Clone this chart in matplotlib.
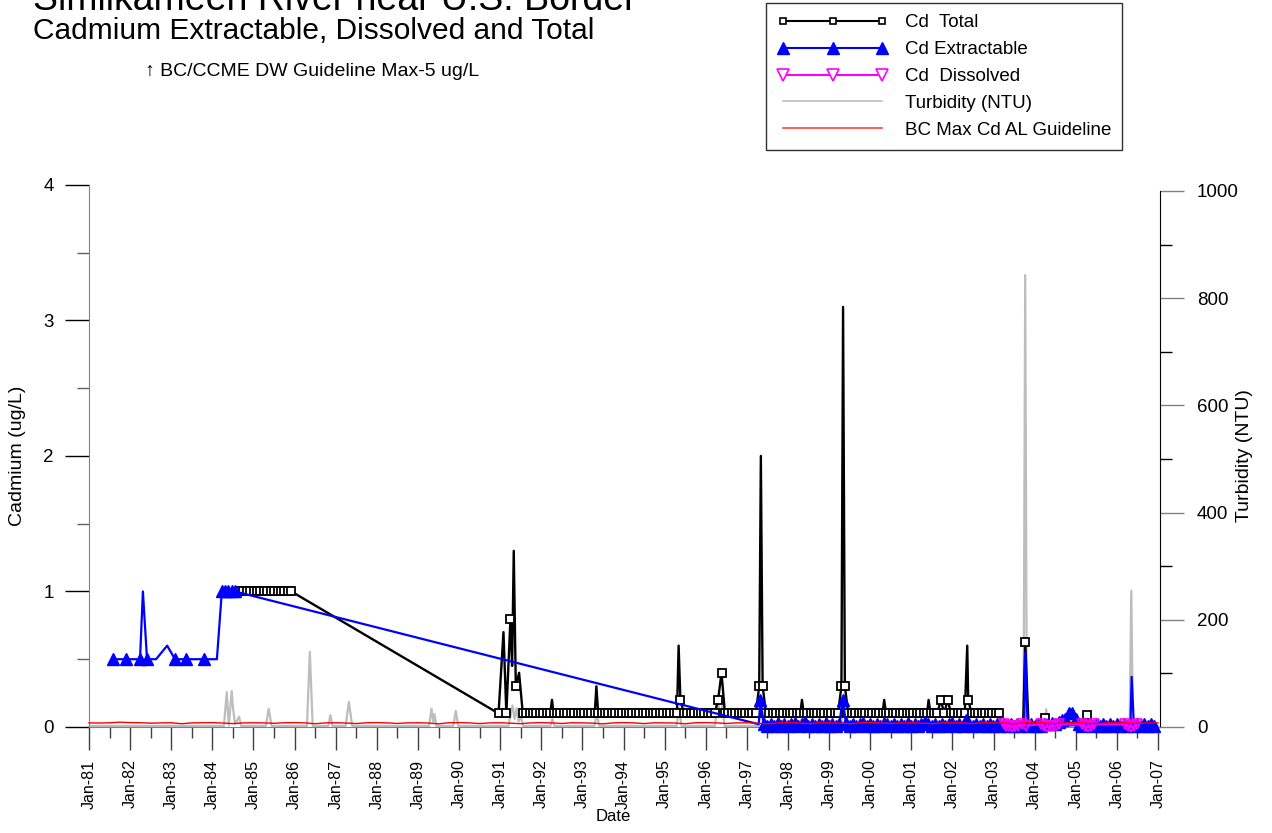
import numpy as np
import matplotlib.pyplot as plt
from matplotlib.lines import Line2D

plt.rcParams['font.family'] = ['Liberation Sans', 'DejaVu Sans']

# ---------------- data (decimal years) ----------------
# Cd Total (ug/L): points with a marker
total_v_early = [1.0, 1.0, 1.0, 1.0, 1.0, 1.0, 1.0, 1.0,
                 1.0, 1.0, 1.0, 1.0, 1.0, 1.0, 1.0, 1.0]
total_t_early = 1984.67 + np.arange(len(total_v_early)) / 12
total_t_91 = [1990.96, 1991.15, 1991.25, 1991.38]
total_v_91 = [0.1, 0.1, 0.8, 0.3]
total_v_base = [
    0.1, 0.1, 0.1, 0.1, 0.1, 0.1, 0.1, 0.1, 0.1, 0.1, 0.1, 0.1,
    0.1, 0.1, 0.1, 0.1, 0.1, 0.1, 0.1, 0.1, 0.1, 0.1, 0.1, 0.1,
    0.1, 0.1, 0.1, 0.1, 0.1, 0.1, 0.1, 0.1, 0.1, 0.1, 0.1, 0.1,
    0.1, 0.1, 0.1, 0.1, 0.1, 0.1, 0.1, 0.1, 0.1, 0.1, 0.2, 0.1,
    0.1, 0.1, 0.1, 0.1, 0.1, 0.1, 0.1, 0.1, 0.1, 0.2, 0.4, 0.1,
    0.1, 0.1, 0.1, 0.1, 0.1, 0.1, 0.1, 0.1, 0.1, 0.3, 0.3, 0.1,
    0.1, 0.1, 0.1, 0.1, 0.1, 0.1, 0.1, 0.1, 0.1, 0.1, 0.1, 0.1,
    0.1, 0.1, 0.1, 0.1, 0.1, 0.1, 0.1, 0.1, 0.1, 0.3, 0.3, 0.1,
    0.1, 0.1, 0.1, 0.1, 0.1, 0.1, 0.1, 0.1, 0.1, 0.1, 0.1, 0.1,
    0.1, 0.1, 0.1, 0.1, 0.1, 0.1, 0.1, 0.1, 0.1, 0.1, 0.1, 0.1,
    0.1, 0.1, 0.2, 0.1, 0.2, 0.1, 0.1, 0.1, 0.1, 0.1, 0.2, 0.1,
    0.1, 0.1, 0.1, 0.1, 0.1, 0.1, 0.1, 0.1,
]
total_t_base = 1991.55 + np.arange(len(total_v_base)) / 12
total_t_late = [2003.77, 2004.26, 2005.28]
total_v_late = [0.63, 0.065, 0.09]
# Cd Total: points without a marker
total_t_free = [1991.08, 1991.29, 1991.33, 1991.46, 1992.26, 1993.34, 1995.34,
                1997.34, 1998.34, 1999.34, 2000.34, 2001.42, 2002.36,
                2003.17, 2003.35, 2003.55, 2003.72, 2003.85, 2004.05, 2004.2,
                2004.35, 2004.6, 2004.85, 2005.05, 2005.2, 2005.4, 2005.65,
                2005.9, 2006.2, 2006.45, 2006.7, 2006.95]
total_v_free = [0.7, 0.45, 1.3, 0.4, 0.2, 0.3, 0.6,
                2.0, 0.2, 3.1, 0.2, 0.2, 0.6,
                0.03, 0.02, 0.02, 0.02, 0.02, 0.02, 0.02,
                0.03, 0.02, 0.03, 0.03, 0.03, 0.03, 0.02,
                0.02, 0.03, 0.02, 0.02, 0.02]

# Cd Extractable (ug/L)
ext_t_early = [1981.58, 1981.9, 1982.24, 1982.41, 1983.09, 1983.36, 1983.8,
               1984.23, 1984.31, 1984.39, 1984.47, 1984.55]
ext_v_early = [0.5, 0.5, 0.5, 0.5, 0.5, 0.5, 0.5,
               1.0, 1.0, 1.0, 1.0, 1.0]
ext_v_dense = [
    0.20, 0.02, 0.01, 0.02, 0.01, 0.03, 0.01, 0.02, 0.01, 0.02, 0.03, 0.01,
    0.02, 0.04, 0.01, 0.02, 0.01, 0.02, 0.01, 0.03, 0.01, 0.02, 0.01, 0.02,
    0.20, 0.03, 0.01, 0.02, 0.01, 0.02, 0.03, 0.01, 0.02, 0.01, 0.02, 0.01,
    0.03, 0.02, 0.01, 0.02, 0.01, 0.02, 0.01, 0.03, 0.01, 0.02, 0.01, 0.02,
    0.04, 0.02, 0.01, 0.02, 0.01, 0.02, 0.01, 0.02, 0.03, 0.01, 0.02, 0.01,
    0.05, 0.02, 0.01, 0.02, 0.01, 0.02, 0.01, 0.02, 0.01, 0.02, 0.01, 0.02,
    0.01, 0.02, 0.01, 0.02, 0.01, 0.02, 0.01, 0.02, 0.01, 0.02, 0.01, 0.02,
    0.02, 0.03, 0.02, 0.04, 0.05, 0.06, 0.10, 0.10, 0.06, 0.02, 0.01, 0.02,
    0.02, 0.01, 0.02, 0.01, 0.02, 0.01, 0.02, 0.01, 0.02, 0.01, 0.02, 0.01,
    0.02, 0.01, 0.02, 0.01, 0.02, 0.01, 0.02, 0.01,
]
ext_t_dense = 1997.33 + np.arange(len(ext_v_dense)) / 12
ext_t_free = [1982.31, 1982.63, 1982.9, 1984.11, 1997.29, 2003.77, 2006.36]
ext_v_free = [1.0, 0.5, 0.6, 0.5, 0.02, 0.55, 0.37]

# Cd Dissolved (ug/L)
diss_t = [2003.25, 2003.3, 2003.38, 2003.45, 2003.52, 2003.6, 2003.7, 2003.8,
          2004.15, 2004.22, 2004.3, 2004.38, 2004.45, 2004.52, 2004.6,
          2005.15, 2005.22, 2005.3, 2005.38, 2005.45,
          2006.2, 2006.28, 2006.35, 2006.42, 2006.5]
diss_v = [0.02, 0.005, 0.01, 0.0, 0.01, 0.005, 0.02, 0.01,
          0.02, 0.005, 0.0, 0.01, 0.005, 0.01, 0.02,
          0.02, 0.005, 0.0, 0.01, 0.02,
          0.02, 0.01, 0.0, 0.005, 0.02]

# Turbidity (NTU)
turb_t = [1981.0, 1984.28, 1984.35, 1984.4, 1984.47, 1984.5, 1984.55, 1984.65, 1984.7,
          1985.3, 1985.37, 1985.44, 1986.3, 1986.37, 1986.44, 1986.82, 1986.87, 1986.92,
          1987.24, 1987.32, 1987.4, 1989.27, 1989.33, 1989.37, 1989.4, 1989.45,
          1989.86, 1989.92, 1989.98, 1991.2, 1991.3, 1991.35, 1991.4, 1991.45, 1991.5, 1991.56,
          1992.22, 1992.27, 1992.32, 1993.29, 1993.35, 1993.41, 1995.29, 1995.35, 1995.41,
          1996.22, 1996.3, 1996.36, 1996.4, 1996.46, 1997.28, 1997.34, 1997.4,
          1998.28, 1998.33, 1998.38, 1999.3, 1999.35, 1999.4, 2002.33, 2002.38, 2002.43,
          2003.73, 2003.77, 2003.81, 2004.24, 2004.28, 2004.32,
          2006.31, 2006.35, 2006.39, 2007.0]
turb_v = [2, 2, 65, 3, 67, 37, 5, 19, 2,
          2, 34, 2, 2, 140, 2, 2, 22, 2,
          2, 47, 2, 2, 34, 10, 24, 2,
          2, 30, 2, 2, 40, 15, 35, 10, 20, 2,
          2, 15, 2, 2, 25, 2, 2, 35, 2,
          2, 45, 20, 40, 2, 2, 40, 2,
          2, 15, 2, 2, 50, 2, 2, 19, 2,
          3, 843, 3, 2, 33, 2,
          2, 254, 2, 2]

# BC max Cd aquatic life guideline (ug/L), quarterly
guide_v = [
    0.030, 0.029, 0.031, 0.035, 0.032, 0.031, 0.028, 0.030,
    0.031, 0.024, 0.030, 0.031, 0.032, 0.029, 0.025, 0.030,
    0.031, 0.030, 0.027, 0.031, 0.032, 0.030, 0.024, 0.030,
    0.031, 0.029, 0.025, 0.031, 0.032, 0.030, 0.026, 0.030,
    0.031, 0.029, 0.023, 0.031, 0.032, 0.030, 0.025, 0.030,
    0.031, 0.028, 0.024, 0.030, 0.032, 0.030, 0.026, 0.031,
    0.030, 0.028, 0.023, 0.030, 0.032, 0.030, 0.025, 0.031,
    0.030, 0.029, 0.024, 0.031, 0.032, 0.030, 0.026, 0.030,
    0.031, 0.028, 0.023, 0.030, 0.032, 0.030, 0.025, 0.031,
    0.030, 0.029, 0.024, 0.031, 0.032, 0.030, 0.026, 0.030,
    0.031, 0.028, 0.024, 0.030, 0.031, 0.030, 0.025, 0.031,
    0.030, 0.029, 0.023, 0.031, 0.032, 0.030, 0.025, 0.030,
    0.031, 0.029, 0.024, 0.030, 0.031, 0.030, 0.026, 0.030,
    0.030,
]
guide_t = 1981.0 + np.arange(len(guide_v)) * 0.25

years = list(range(1981, 2008))
tick_labels = ['Jan-%02d' % (y % 100) for y in years]


def merge(t_mark, v_mark, t_free, v_free):
    t = np.concatenate([t_mark, t_free])
    v = np.concatenate([v_mark, v_free])
    o = np.argsort(t, kind='stable')
    return t[o], v[o]


tot_mt = np.concatenate([total_t_early, total_t_91, total_t_base, total_t_late])
tot_mv = np.concatenate([total_v_early, total_v_91, total_v_base, total_v_late])
tot_t, tot_v = merge(tot_mt, tot_mv, total_t_free, total_v_free)

ext_mt = np.concatenate([ext_t_early, ext_t_dense])
ext_mv = np.concatenate([ext_v_early, ext_v_dense])
ext_t, ext_v = merge(ext_mt, ext_mv, ext_t_free, ext_v_free)

# ---------------- figure ----------------
fig = plt.figure(figsize=(12.72, 8.33), dpi=100)
ax = fig.add_axes([0.0700, 0.1273, 0.8420, 0.6507])
ax2 = ax.twinx()
ax.set_zorder(ax2.get_zorder() + 1)
ax.patch.set_visible(False)

ax2.plot(turb_t, turb_v, color='#bdbdbd', lw=1.6)

ax.plot(tot_t, tot_v, color='black', lw=1.7, clip_on=False, zorder=3)
ax.plot(tot_mt, tot_mv, ls='none', marker='s', ms=5.3, mfc='white',
        mec='black', mew=1.3, clip_on=False, zorder=3)
ax.plot(ext_t, ext_v, color='blue', lw=1.6, clip_on=False, zorder=4)
ax.plot(ext_mt, ext_mv, ls='none', marker='^', ms=8.5, color='blue',
        clip_on=False, zorder=4)
ax.plot(diss_t, diss_v, color='magenta', lw=1.5, marker='v', ms=7.5,
        mfc='none', mec='magenta', mew=1.2, clip_on=False, zorder=5)
ax.plot(guide_t, guide_v, color='red', lw=1, clip_on=False, zorder=6)

ax.set_xlim(1981, 2007.05)
ax.set_ylim(0, 4)
ax2.set_ylim(0, 1000 * 542 / 536)

ax.set_xticks(years)
ax.set_xticklabels(tick_labels, rotation=90)
ax.set_xticks([y + 0.5 for y in years[:-1]], minor=True)
ax.set_yticks([0, 1, 2, 3, 4])
ax.set_yticks([0.5, 1.5, 2.5, 3.5], minor=True)
ax2.set_yticks(range(0, 1001, 200))
ax2.set_yticks(range(100, 1000, 200), minor=True)

for s in ['top', 'right']:
    ax.spines[s].set_visible(False)
for s in ['top', 'left', 'bottom']:
    ax2.spines[s].set_visible(False)
ax2.spines['right'].set_bounds(0, 1000)
ax.spines['left'].set_color('#808080')
ax.spines['bottom'].set_color('#808080')

ax.tick_params(axis='x', which='major', length=16.5, width=1, color='#404040',
               labelsize=11.5, pad=7)
ax.tick_params(axis='x', which='minor', length=8, width=1, color='#404040')
ax.tick_params(axis='y', which='major', length=17, width=1, color='black',
               labelsize=13.5, pad=8.5)
ax.tick_params(axis='y', which='minor', length=8.5, width=1, color='#606060')
ax2.tick_params(axis='y', which='major', length=17, width=1, color='#808080',
                labelsize=13.5, pad=9.5)
ax2.tick_params(axis='y', which='minor', length=8.5, width=1, color='black')

ax.set_ylabel('Cadmium (ug/L)', fontsize=14)
ax.yaxis.set_label_coords(-0.0588, 0.5)
ax2.set_ylabel('Turbidity (NTU)', fontsize=14)
ax2.yaxis.set_label_coords(1.0709, 0.5)
ax.set_xlabel('Date', fontsize=12)
ax.xaxis.set_label_coords(0.489, -0.152)

fig.text(33 / 1272, 1 - 10 / 833, 'Similkameen River near U.S. Border',
         fontsize=27, va='baseline')
fig.text(33 / 1272, 1 - 39 / 833, 'Cadmium Extractable, Dissolved and Total',
         fontsize=21.5, va='baseline')
fig.text(145 / 1272, 1 - 71 / 833, '\u2191 BC/CCME DW Guideline Max-5 ug/L',
         fontsize=14, va='center')

handles = [
    Line2D([], [], color='black', lw=1.5, marker='s', ms=4.5, mfc='white',
           mec='black', mew=1.2),
    Line2D([], [], color='blue', lw=1.5, marker='^', ms=9),
    Line2D([], [], color='magenta', lw=1.5, marker='v', ms=8, mfc='white',
           mec='magenta', mew=1.2),
    Line2D([], [], color='#bdbdbd', lw=1.2),
    Line2D([], [], color='#ff4040', lw=1.2),
]
labels = ['Cd  Total', 'Cd Extractable', 'Cd  Dissolved', 'Turbidity (NTU)',
          'BC Max Cd AL Guideline']
leg = fig.legend(handles, labels, loc='upper left',
                 bbox_to_anchor=(766 / 1272, 1 - 3 / 833), borderaxespad=0,
                 numpoints=3, handlelength=5.9, handletextpad=0.9,
                 fontsize=13.5, labelspacing=0.52, borderpad=0.6,
                 fancybox=False, framealpha=1)
leg.get_frame().set_edgecolor('#303030')
leg.get_frame().set_linewidth(1)

fig.savefig('out.png', dpi=100)
